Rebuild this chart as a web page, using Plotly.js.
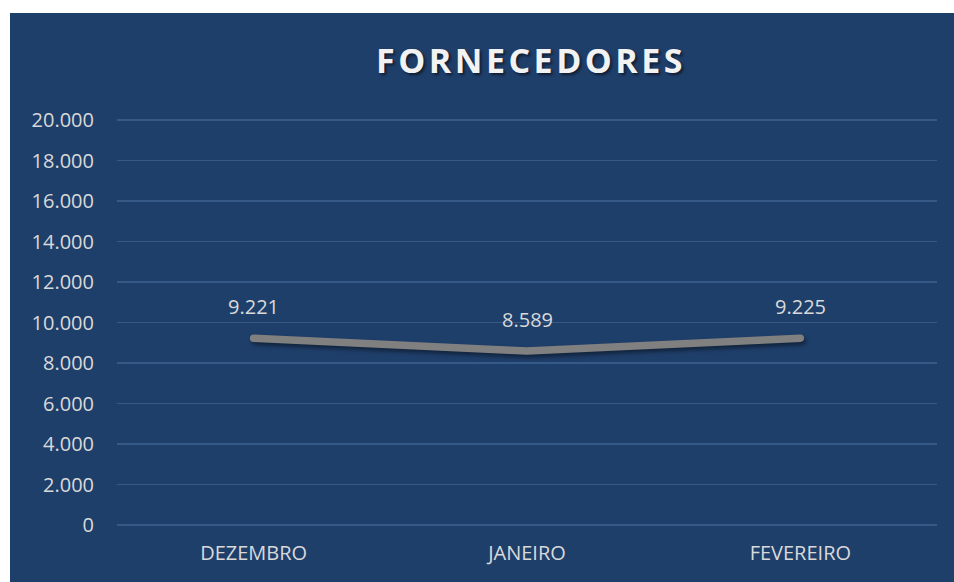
<!DOCTYPE html>
<html><head><meta charset="utf-8">
<script src="https://cdn.plot.ly/plotly-3.0.1.min.js"></script>
<style>
html,body{margin:0;padding:0;background:#fff;width:954px;height:582px;overflow:hidden}
#chart{position:absolute;left:10px;top:13px;width:944px;height:569px}
</style></head>
<body><div id="chart"></div>
<script>
const months = ['DEZEMBRO','JANEIRO','FEVEREIRO'];
const fornecedores = [9221, 8589, 9225];
const yTicks = [0,2000,4000,6000,8000,10000,12000,14000,16000,18000,20000];

const bg = '#1f3f6b';
const labelColor = '#d9d9d9';
const fontFam = '"Open Sans", "Noto Sans", sans-serif';

const trace = {
  x: months, y: fornecedores, type: 'scatter', mode: 'lines',
  line: {color: '#808080', width: 7.5, shape: 'linear'},
  hoverinfo: 'skip', showlegend: false
};

const annotations = months.map((m, i) => ({
  x: m, y: fornecedores[i], xref: 'x', yref: 'y',
  text: fornecedores[i].toLocaleString('de-DE'),
  showarrow: false, yshift: 32,
  font: {family: fontFam, size: 20, color: labelColor}
}));

const layout = {
  width: 944, height: 569,
  paper_bgcolor: bg, plot_bgcolor: bg,
  separators: ',.',
  margin: {l: 107, r: 17, t: 103, b: 57},
  title: {
    text: 'FORNECEDORES', x: 0.552, xanchor: 'center', y: 0.915, yanchor: 'middle',
    font: {family: fontFam, size: 34, color: '#f2f2f2', weight: 'bold', shadow: '2px 2px 3px rgba(0,0,0,0.55)'}
  },
  xaxis: {
    type: 'category', range: [-0.5, 2.5], showgrid: false, zeroline: false, showline: false,
    ticks: '', ticklabelstandoff: 14,
    tickfont: {family: fontFam, size: 20, color: labelColor}
  },
  yaxis: {
    range: [0, 20200], tickvals: yTicks, tickformat: ',d',
    showgrid: true, gridcolor: '#365a87', gridwidth: 1.3,
    zeroline: true, zerolinecolor: '#365a87', zerolinewidth: 1.3, showline: false,
    ticks: '', ticklabelstandoff: 22,
    tickfont: {family: fontFam, size: 20, color: labelColor}
  },
  annotations: annotations
};

Plotly.newPlot('chart', [trace], layout, {displayModeBar: false, staticPlot: true}).then(() => {
  const t = document.querySelector('#chart .gtitle');
  if (t) t.style.letterSpacing = '3.5px';
  const ln = document.querySelector('#chart .scatterlayer path.js-line');
  if (ln) { ln.style.filter = 'drop-shadow(2px 3px 2px rgba(0,0,0,0.45))'; ln.style.strokeLinecap = 'round'; }
});
</script></body></html>
